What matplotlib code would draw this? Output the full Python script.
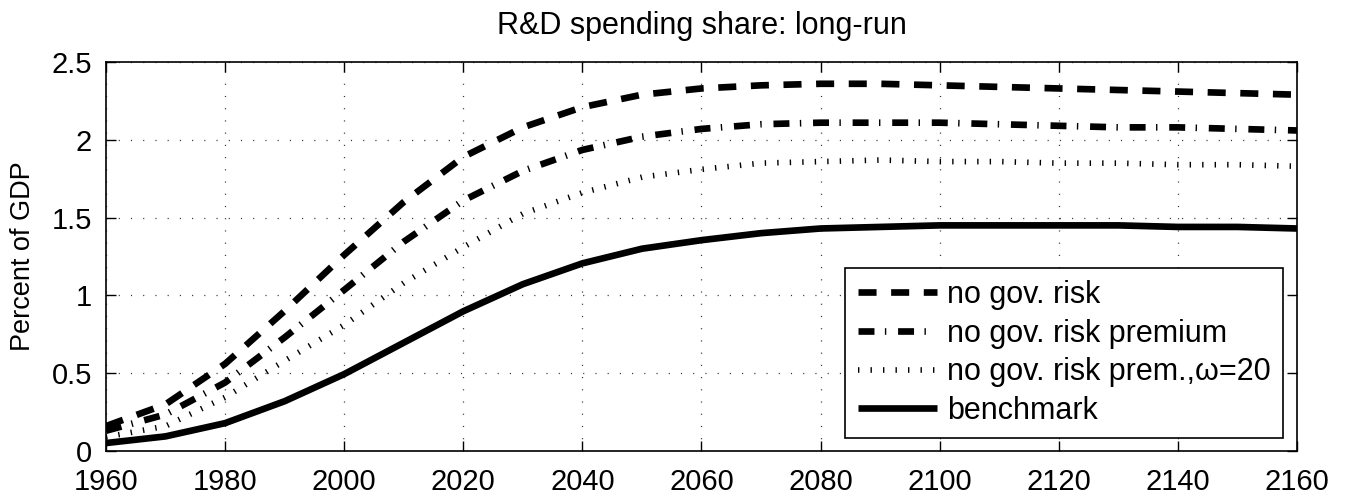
import matplotlib
matplotlib.use("Agg")
import matplotlib.pyplot as plt
from matplotlib.ticker import MultipleLocator

plt.rcParams['font.family'] = ['Liberation Sans', 'DejaVu Sans']
plt.rcParams['lines.scale_dashes'] = False

years = list(range(1960, 2161, 10))
no_gov_risk = [0.16, 0.30, 0.56, 0.90, 1.26, 1.60, 1.89, 2.08, 2.21, 2.29, 2.33,
               2.35, 2.36, 2.36, 2.35, 2.34, 2.33, 2.32, 2.31, 2.30, 2.29]
no_gov_premium = [0.13, 0.235, 0.44, 0.73, 1.035, 1.345, 1.61, 1.80, 1.935, 2.02, 2.07,
                  2.10, 2.11, 2.11, 2.11, 2.10, 2.09, 2.08, 2.08, 2.07, 2.06]
omega20 = [0.09, 0.16, 0.345, 0.58, 0.81, 1.08, 1.31, 1.525, 1.66, 1.76, 1.81,
           1.85, 1.86, 1.87, 1.86, 1.86, 1.85, 1.85, 1.84, 1.84, 1.83]
benchmark = [0.051, 0.094, 0.179, 0.32, 0.494, 0.696, 0.898, 1.072, 1.206, 1.30, 1.355,
             1.40, 1.43, 1.44, 1.45, 1.45, 1.45, 1.45, 1.44, 1.44, 1.43]
labels = ['no gov. risk', 'no gov. risk premium',
          'no gov. risk prem.,ω=20', 'benchmark']
ytick_vals = [0, 0.5, 1, 1.5, 2, 2.5]
ytick_labels = ['0', '0.5', '1', '1.5', '2', '2.5']

W, H = 1351, 499
fig = plt.figure(figsize=(W / 100, H / 100), dpi=100)
L, R, T, B = 106, 1297, 62, 451
ax = fig.add_axes([L / W, 1 - B / H, (R - L) / W, (B - T) / H])

lw = 4.8
ax.plot(years, no_gov_risk, color='black', lw=lw, dashes=(13, 10.5),
        dash_capstyle='butt', label=labels[0])
ax.plot(years, no_gov_premium, color='black', lw=lw, dashes=(11.5, 7.5, 1.0, 8.5),
        dash_capstyle='butt', label=labels[1])
ax.plot(years, omega20, color='black', lw=lw * 0.85, dashes=(1.0, 8.0),
        dash_capstyle='butt', label=labels[2])
ax.plot(years, benchmark, color='black', lw=lw, solid_capstyle='butt',
        solid_joinstyle='round', label=labels[3])

ax.set_xlim(1960, 2160)
ax.set_ylim(0, 2.5)
ax.xaxis.set_major_locator(MultipleLocator(20))
ax.set_yticks(ytick_vals)
ax.set_yticklabels(ytick_labels)
ax.tick_params(direction='in', top=True, right=True, length=7.5, width=1,
               labelsize=21)
ax.tick_params(axis='x', pad=12)
ax.tick_params(axis='y', pad=10)
ax.grid(True, color='#333333', linestyle=(0, (0.8, 8)), linewidth=0.9)
for s in ax.spines.values():
    s.set_linewidth(1.2)
ax.set_ylabel('Percent of GDP', fontsize=19.5)
ax.yaxis.set_label_coords(-(L - 36) / (R - L), 0.5)
ax.set_title('R&D spending share: long-run', fontsize=22, pad=20)

leg = ax.legend(loc='lower right',
                bbox_to_anchor=((1283 - L) / (R - L), (B - 438) / (B - T)),
                borderaxespad=0, fontsize=22, frameon=True, fancybox=False,
                edgecolor='black', framealpha=1, handlelength=2.6,
                handletextpad=0.33, labelspacing=0.28, borderpad=0.4)
leg.get_frame().set_linewidth(1.2)

fig.savefig('out.png', dpi=100)
